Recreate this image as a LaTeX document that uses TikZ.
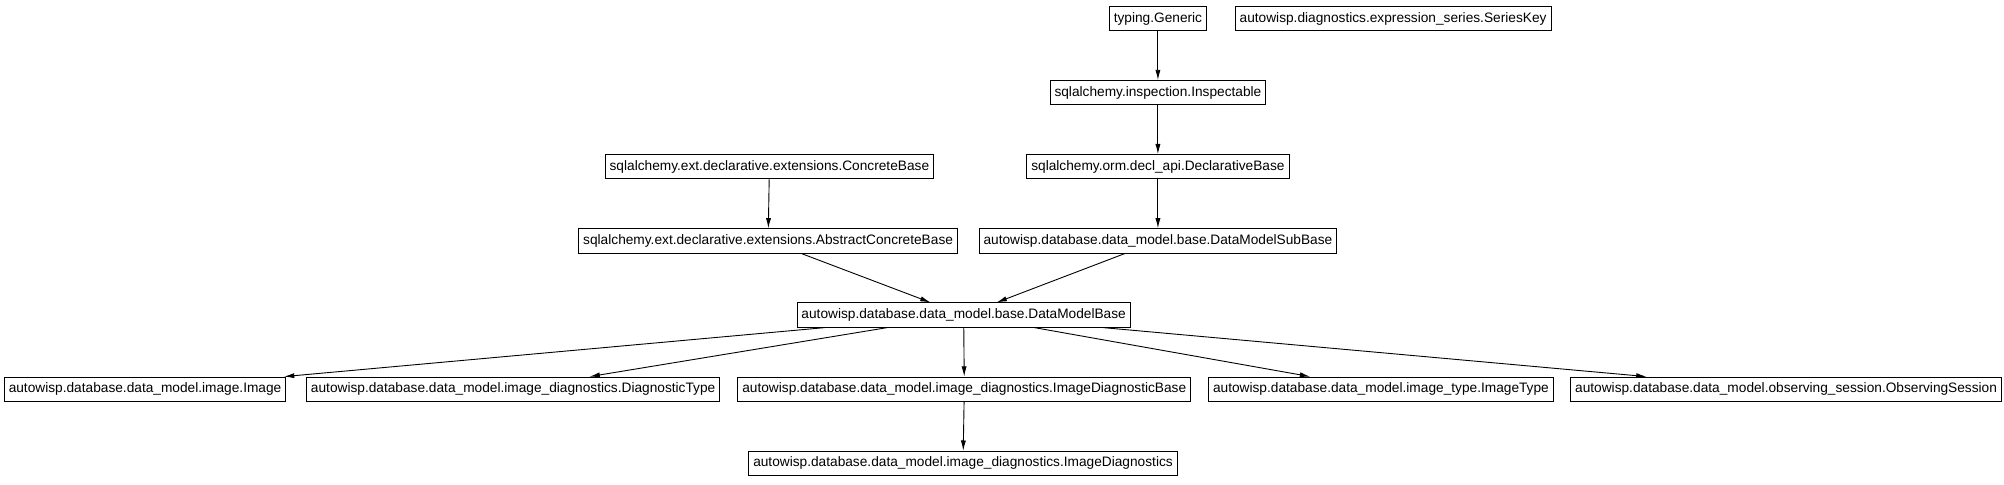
\documentclass[tikz,border=0pt]{standalone}
\usepackage{fontspec}
\setmainfont{Liberation Sans}
\usetikzlibrary{arrows.meta}

\begin{document}
\begin{tikzpicture}[
    x=0.02cm, y=-0.02cm,
    cls/.style={
        draw,
        line width=0.4pt,
        minimum height=0.38cm,
        inner xsep=0.07cm,
        inner ysep=0pt,
        font=\fontsize{6.1}{7}\selectfont
    },
    arrow/.style={
        -{Latex[length=0.16cm, width=0.08cm]},
        line width=0.4pt
    }
]
\useasboundingbox (0,0) rectangle (1568,379);

% Top row
\node[cls] (generic) at (906, 14.5) {typing.Generic};
\node[cls] (serieskey) at (1090, 14.5) {autowisp.diagnostics.expression\_series.SeriesKey};

% SQLAlchemy bases
\node[cls] (inspectable) at (906, 72.5) {sqlalchemy.inspection.Inspectable};
\node[cls] (concrete) at (602, 130.5) {sqlalchemy.ext.declarative.extensions.ConcreteBase};
\node[cls] (declarative) at (906, 130.5) {sqlalchemy.orm.decl\_api.DeclarativeBase};
\node[cls] (abstractconcrete) at (601, 188.5) {sqlalchemy.ext.declarative.extensions.AbstractConcreteBase};
\node[cls] (subbase) at (906, 188.5) {autowisp.database.data\_model.base.DataModelSubBase};

% Data model base
\node[cls] (modelbase) at (754, 246.5) {autowisp.database.data\_model.base.DataModelBase};

% Data model classes
\node[cls] (image) at (113.5, 304.5) {autowisp.database.data\_model.image.Image};
\node[cls] (diagtype) at (401.5, 304.5) {autowisp.database.data\_model.image\_diagnostics.DiagnosticType};
\node[cls] (diagbase) at (754.5, 304.5) {autowisp.database.data\_model.image\_diagnostics.ImageDiagnosticBase};
\node[cls] (imagetype) at (1080.5, 304.5) {autowisp.database.data\_model.image\_type.ImageType};
\node[cls] (session) at (1397.5, 304.5) {autowisp.database.data\_model.observing\_session.ObservingSession};
\node[cls] (diagnostics) at (753.5, 362.5) {autowisp.database.data\_model.image\_diagnostics.ImageDiagnostics};

% Inheritance arrows
\draw[arrow] (generic) -- (inspectable);
\draw[arrow] (inspectable) -- (declarative);
\draw[arrow] (declarative) -- (subbase);
\draw[arrow] (concrete) -- (abstractconcrete);
\draw[arrow] (abstractconcrete) -- (modelbase);
\draw[arrow] (subbase) -- (modelbase);
\foreach \c in {image, diagtype, diagbase, imagetype, session} {
    \draw[arrow] (modelbase) -- (\c);
}
\draw[arrow] (diagbase) -- (diagnostics);

\end{tikzpicture}
\end{document}
